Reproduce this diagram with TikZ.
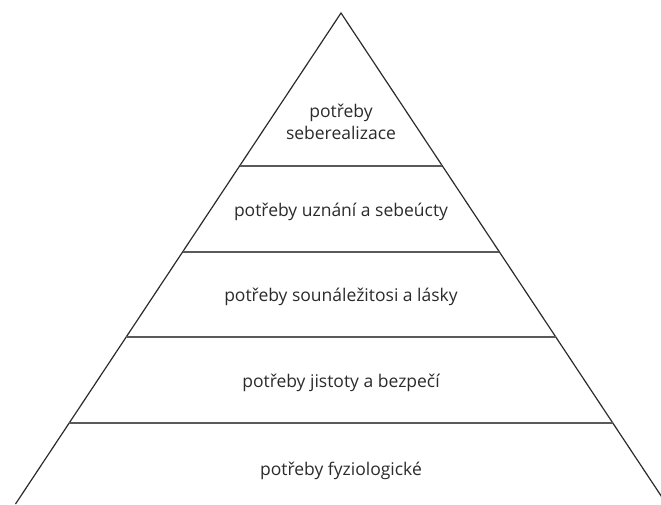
\documentclass[tikz,border=0pt]{standalone}
\usepackage{fontspec}
\setmainfont{Open Sans}
\usetikzlibrary{calc}
\definecolor{pyrInk}{HTML}{2B2B2B}
\definecolor{pyrRule}{HTML}{5A5A5A}

\begin{document}
\begin{tikzpicture}[
  x=1pt, y=-1pt,
  font=\fontsize{17.5}{22}\selectfont,
  level/.style={align=center, inner sep=0pt, text=pyrInk},
  side/.style={draw=pyrInk, line width=1.2pt},
  rule/.style={draw=pyrRule, line width=1.2pt},
]
\useasboundingbox (0,0) rectangle (661,504);
\clip (0,0) rectangle (661,504);
\coordinate (apex) at (341,13);
\coordinate (baseL) at (15.5,504);
\coordinate (baseR) at (666.5,504);
\draw[side] (baseL) -- (apex) -- (baseR);
% dividers between the levels
\foreach \y in {166,252,337,423} {
  \draw[rule] ($(apex)!{(\y-13)/491}!(baseL)$) -- ($(apex)!{(\y-13)/491}!(baseR)$);
}
\node[level] (self) at (341,122) {potřeby\\seberealizace};
\node[level] (esteem) at (341,212) {potřeby uznání a sebeúcty};
\node[level] (love) at (341,297) {potřeby sounáležitosi a lásky};
\node[level] (safety) at (341,383) {potřeby jistoty a bezpečí};
\node[level] (body) at (341,471) {potřeby fyziologické};
\end{tikzpicture}
\end{document}
